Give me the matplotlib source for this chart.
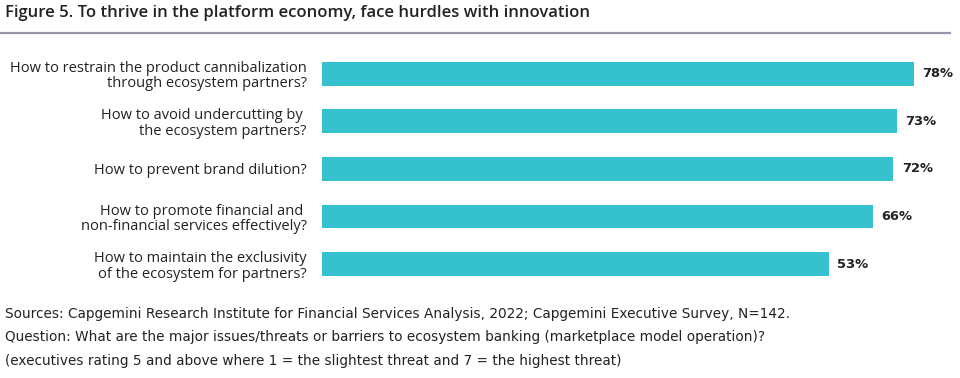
import matplotlib.pyplot as plt
from matplotlib.lines import Line2D

# chart data
questions = [
    "How to restrain the product cannibalization\nthrough ecosystem partners?",
    "How to avoid undercutting by \nthe ecosystem partners?",
    "How to prevent brand dilution?",
    "How to promote financial and \nnon-financial services effectively?",
    "How to maintain the exclusivity\nof the ecosystem for partners?",
]
shares = [78, 73, 72, 66, 53]

title = "Figure 5. To thrive in the platform economy, face hurdles with innovation"
notes = [
    "Sources: Capgemini Research Institute for Financial Services Analysis, 2022; Capgemini Executive Survey, N=142.",
    "Question: What are the major issues/threats or barriers to ecosystem banking (marketplace model operation)?",
    "(executives rating 5 and above where 1 = the slightest threat and 7 = the highest threat)",
]

bar_color = "#36C1CF"
text_color = "#222222"
axis_start = -96  # the original chart uses a truncated (non-zero) bar baseline

plt.rcParams["font.family"] = ["Open Sans", "DejaVu Sans"]

fig = plt.figure(figsize=(9.6, 3.78), dpi=100)
ax = fig.add_axes([322 / 960, 90 / 378, 628 / 960, 238 / 378])

ypos = list(range(len(shares)))
widths = [v - axis_start for v in shares]
ax.barh(ypos, widths, left=axis_start, height=0.5, color=bar_color)
for y, v in zip(ypos, shares):
    ax.text(v + 2.6, y, f"{v}%", va="center", ha="left", family="DejaVu Sans",
            fontsize=9.4, fontweight="bold", color=text_color)

ax.set_xlim(axis_start, 88.7)
ax.set_ylim(len(shares) - 0.5, -0.5)
ax.set_yticks(ypos)
ax.set_yticklabels(questions, fontsize=10.5, color=text_color, linespacing=1.05)
ax.tick_params(axis="y", length=0, pad=11)
ax.set_xticks([])
for s in ax.spines.values():
    s.set_visible(False)

fig.text(5 / 960, 1 - 13 / 378, title, fontsize=12, fontweight="semibold",
         color=text_color, va="center", ha="left")
fig.add_artist(Line2D([0, 950 / 960], [1 - 33 / 378, 1 - 33 / 378],
                      color="#9A93A8", lw=1.6))

for i, line in enumerate(notes):
    fig.text(5 / 960, 1 - (314 + 23.5 * i) / 378, line, fontsize=9.8,
             family="DejaVu Sans",
             color=text_color, va="center", ha="left")

fig.savefig("out.png", dpi=100)
